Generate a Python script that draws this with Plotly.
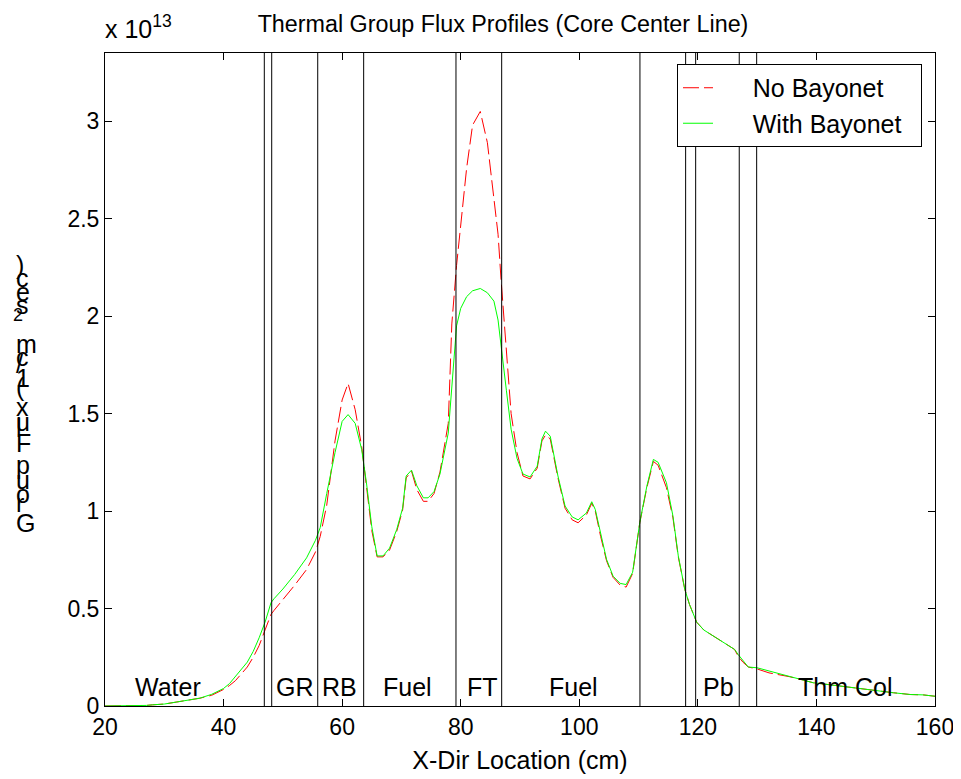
import plotly.graph_objects as go

# ---------------- data ----------------
x_cm = [20, 22, 24, 26, 27, 28, 30, 32, 34, 36, 38, 40, 41, 42, 43, 44, 45, 46, 47, 48,
        48.5, 50, 52, 54, 55.5, 56.3, 57.4, 58.8, 60, 61, 62.2, 63.3, 64.1, 65, 65.9,
        66.9, 68, 69.2, 70.2, 70.8, 71.7, 72.6, 73.7, 74.5, 75.5, 76.5, 77.9, 78.5,
        79.3, 80, 81, 82, 83.3, 84.5, 85.6, 86.3, 86.8, 87.7, 88.5, 89.5, 90.5, 91.7,
        92.9, 93.7, 94.3, 95.1, 96.4, 97.6, 98.8, 99.8, 101.2, 102.1, 102.7, 103.6,
        104.6, 105.7, 106.9, 107.9, 109, 110.2, 111.4, 112.5, 113.3, 114.7, 115.8,
        116.7, 117.8, 118.6, 119.8, 121, 122.6, 124, 126.2, 126.8, 127.6, 128.5, 130,
        132, 134, 135.5, 137.5, 139.5, 142, 145, 148, 150.7, 153, 155.8, 158, 160]

with_bayonet = [0, 0, 0, 0, 0.003, 0.006, 0.01, 0.02, 0.03, 0.04, 0.06, 0.09, 0.115, 0.15,
                0.185, 0.225, 0.28, 0.35, 0.43, 0.53, 0.55, 0.60, 0.675, 0.76, 0.85,
                0.915, 1.09, 1.30, 1.46, 1.495, 1.45, 1.315, 1.145, 0.92, 0.77, 0.77,
                0.81, 0.905, 1.015, 1.18, 1.21, 1.13, 1.068, 1.068, 1.10, 1.19, 1.40,
                1.62, 1.95, 2.04, 2.10, 2.13, 2.142, 2.12, 2.077, 1.98, 1.86, 1.62, 1.42,
                1.27, 1.19, 1.175, 1.23, 1.37, 1.41, 1.384, 1.18, 1.026, 0.97, 0.955,
                0.99, 1.048, 1.008, 0.88, 0.752, 0.666, 0.629, 0.623, 0.686, 0.94, 1.128,
                1.265, 1.25, 1.145, 0.974, 0.77, 0.598, 0.52, 0.43, 0.39, 0.358, 0.33,
                0.29, 0.264, 0.235, 0.20, 0.196, 0.18, 0.165, 0.153, 0.135, 0.119, 0.11,
                0.098, 0.088, 0.076, 0.068, 0.059, 0.057, 0.05]

no_bayonet = [0, 0, 0, 0, 0.003, 0.006, 0.01, 0.02, 0.03, 0.04, 0.055, 0.085, 0.105, 0.13,
              0.165, 0.20, 0.25, 0.31, 0.39, 0.47, 0.49, 0.545, 0.62, 0.70, 0.79,
              0.87, 1.03, 1.36, 1.57, 1.655, 1.52, 1.33, 1.14, 0.90, 0.765, 0.765,
              0.80, 0.895, 1.005, 1.17, 1.205, 1.11, 1.05, 1.05, 1.09, 1.20, 1.45,
              1.96, 2.26, 2.47, 2.76, 2.98, 3.05, 2.89, 2.62, 2.42, 2.19, 1.83, 1.50,
              1.30, 1.18, 1.165, 1.22, 1.36, 1.39, 1.37, 1.17, 1.015, 0.955, 0.94,
              0.98, 1.04, 1.0, 0.87, 0.745, 0.66, 0.62, 0.61, 0.68, 0.94, 1.12,
              1.255, 1.235, 1.12, 0.965, 0.765, 0.598, 0.52, 0.43, 0.39, 0.358, 0.33,
              0.29, 0.255, 0.225, 0.20, 0.19, 0.17, 0.16, 0.15, 0.135, 0.119, 0.11,
              0.098, 0.088, 0.076, 0.068, 0.059, 0.057, 0.05]

boundaries = [46.87, 48.12, 55.88, 63.63, 79.2, 86.91, 110.23, 117.94, 119.63, 126.98, 129.92]

region_names = ["Water", "GR", "RB", "Fuel", "FT", "Fuel", "Pb", "Thm Col"]
region_x = [30.7, 52.1, 59.6, 71.1, 83.6, 99.1, 123.4, 144.8]
region_y = [0.098] * len(region_names)

x_ticks = [20, 40, 60, 80, 100, 120, 140, 160]
y_ticks = [0, 0.5, 1, 1.5, 2, 2.5, 3]
y_tick_labels = ["0", "0.5", "1", "1.5", "2", "2.5", "3"]

# y-axis label drawn as upright stacked glyphs (bottom to top), baselines in page pixels
ylabel_chars = ["G", "r", "o", "u", "p", "F", "l", "u", "x", "(", "1", "/", "c", "m", "2",
                "s", "e", "c", ")"]
ylabel_base_px = [533, 512.8, 504.1, 489.7, 475.2, 453.5, 437.6, 431.9, 417.4, 397.2, 388.5,
                  374.1, 366.8, 353.8, 332.2, 315, 302, 287.5, 274.5]

FONT = "Liberation Sans, Arial, sans-serif"
OFF = 8                       # page body margin
PL, PR, PT, PB = 105, 935, 53, 706.5   # plot box in page pixels
W, H = 961 - OFF, 779 - OFF
L, R, T, B = PL - OFF, (W + OFF) - PR, PT - OFF, (H + OFF) - PB
PW, PH = PR - PL, PB - PT

def px_to_paper(px, py):
    return (px - PL) / PW, (PB - py) / PH

NB = "\u00a0"
fig = go.Figure()
fig.add_trace(go.Scatter(x=x_cm, y=no_bayonet, mode="lines", name=NB * 5 + "No Bayonet",
                         line=dict(color="#ff0000", width=1, dash="16px,5px")))
fig.add_trace(go.Scatter(x=x_cm, y=with_bayonet, mode="lines",
                         name=NB * 5 + "With Bayonet" + NB * 2,
                         line=dict(color="#00ff00", width=1)))

for b in boundaries:
    fig.add_shape(type="line", xref="x", yref="paper", x0=b, x1=b, y0=0, y1=1,
                  line=dict(color="black", width=1), layer="above")

for name, rx, ry in zip(region_names, region_x, region_y):
    fig.add_annotation(x=rx, y=ry, xref="x", yref="y", text=name, showarrow=False,
                       font=dict(family=FONT, size=25, color="black"))

# x 10^13 multiplier
mx, my = px_to_paper(103, 45)
fig.add_annotation(x=mx, y=my, xref="paper", yref="paper", xanchor="left", yanchor="bottom",
                   text="x 10<sup>13</sup>", showarrow=False,
                   font=dict(family=FONT, size=25, color="black"))

for ch, base in zip(ylabel_chars, ylabel_base_px):
    fs = 18 if ch == "2" else 25
    xpx = 11 if ch == "2" else 14
    bpx = base - 10 if ch == "2" else base
    ax, ay = px_to_paper(xpx, bpx + 0.21 * fs + 1)
    fig.add_annotation(x=ax, y=ay, xref="paper", yref="paper", xanchor="left",
                       yanchor="bottom", text=ch, showarrow=False,
                       font=dict(family=FONT, size=fs, color="black"))

axis_common = dict(showline=True, linecolor="black", linewidth=1, mirror="allticks",
                   ticks="inside", ticklen=7, tickcolor="black", showgrid=False,
                   zeroline=False, automargin=False, ticklabeloverflow="allow",
                   tickfont=dict(family=FONT, size=23, color="black"))

fig.update_xaxes(range=[20, 160], tickvals=x_ticks, title=dict(text="X-Dir Location (cm)",
                 font=dict(family=FONT, size=25, color="black"), standoff=12), **axis_common)
fig.update_yaxes(range=[0, 3.35], tickvals=y_ticks, ticktext=y_tick_labels, **axis_common)

fig.update_layout(
    width=W, height=H,
    margin=dict(l=L, r=R, t=T, b=B, pad=0, autoexpand=False),
    paper_bgcolor="white", plot_bgcolor="white",
    title=dict(text="Thermal Group Flux Profiles (Core Center Line)", x=(503 - OFF) / W,
               xanchor="center", y=1 - (24 - OFF) / H, yanchor="middle",
               font=dict(family=FONT, size=23.3, color="black")),
    legend=dict(x=px_to_paper(922, 0)[0], xanchor="right", y=px_to_paper(0, 64)[1],
                yanchor="top", bgcolor="white", bordercolor="black", borderwidth=1,
                font=dict(family=FONT, size=25, color="black")),
    font=dict(family=FONT, color="black"),
)

fig.write_html("out.html")
